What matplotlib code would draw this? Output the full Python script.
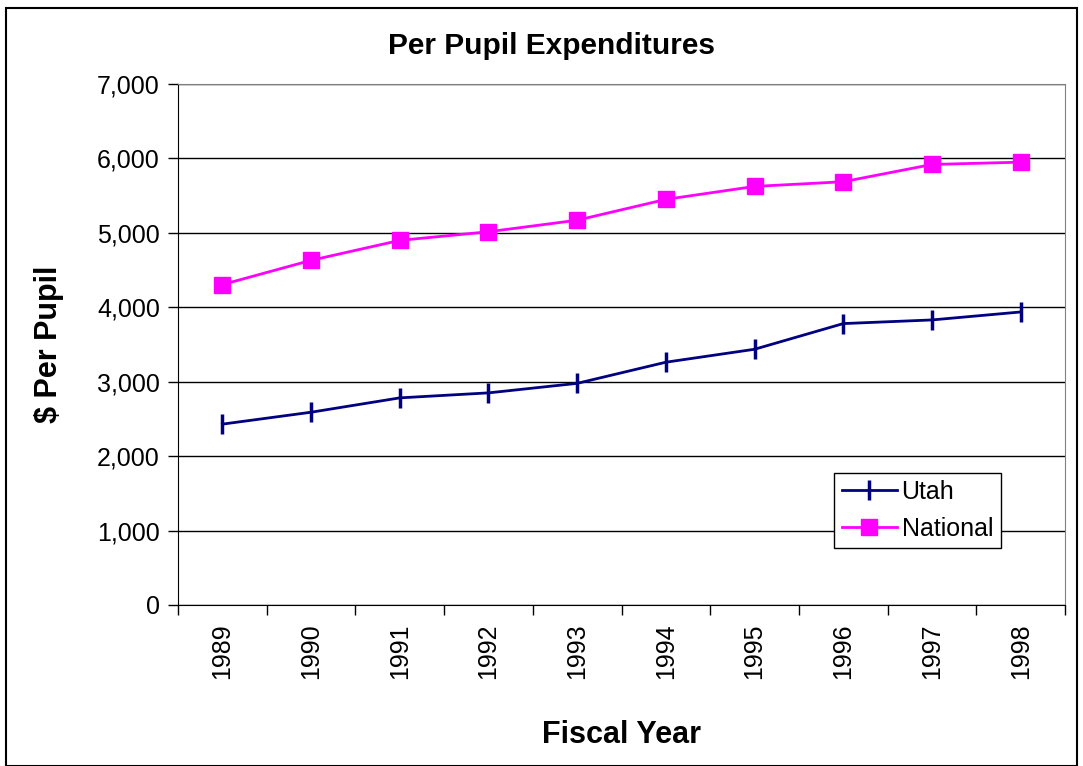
import matplotlib.pyplot as plt
from matplotlib.patches import Rectangle
from matplotlib.ticker import FuncFormatter, FixedLocator, NullFormatter

plt.rcParams['font.family'] = ['Liberation Sans', 'DejaVu Sans']

years = ['1989', '1990', '1991', '1992', '1993', '1994', '1995', '1996', '1997', '1998']
utah = [2430, 2590, 2783, 2850, 2978, 3262, 3436, 3781, 3830, 3937]
national = [4305, 4631, 4899, 5015, 5170, 5450, 5624, 5687, 5919, 5950]

fig = plt.figure(figsize=(10.83, 7.66), dpi=100)
ax = fig.add_axes([178/1083, 1-605/766, 887/1083, 521/766])

x = list(range(len(years)))
ax.plot(x, utah, color='#000080', lw=2, marker='|', ms=14, mew=2.5, label='Utah')
ax.plot(x, national, color='#FF00FF', lw=2, marker='s', ms=11, label='National')

ax.set_xlim(-0.5, len(years) - 0.5)
ax.set_ylim(0, 7000)
ax.set_yticks(range(0, 7001, 1000))
ax.yaxis.set_major_formatter(FuncFormatter(lambda v, p: f'{int(v):,}'))
ax.yaxis.grid(True, color='black', lw=1)
ax.set_axisbelow(True)

# category ticks between years, labels at centers
ax.xaxis.set_major_locator(FixedLocator([i - 0.5 for i in range(len(years) + 1)]))
ax.xaxis.set_major_formatter(NullFormatter())
ax.xaxis.set_minor_locator(FixedLocator(x))
ax.set_xticklabels(years, minor=True, rotation=90)
ax.tick_params(axis='x', which='minor', length=0, pad=13, labelsize=18)
ax.tick_params(axis='x', which='major', length=7, width=1, direction='out')
ax.tick_params(axis='y', length=7, width=1, labelsize=18, pad=6)

for s in ['top', 'right']:
    ax.spines[s].set_color('#808080')
for s in ['left', 'bottom']:
    ax.spines[s].set_color('black')

fig.text(551/1083, 1 - 46/766, 'Per Pupil Expenditures', fontsize=21.5, fontweight='bold',
         ha='center', va='center')
ax.set_ylabel('\\$ Per Pupil', fontsize=22, fontweight='bold', labelpad=24)
ax.set_xlabel('Fiscal Year', fontsize=22, fontweight='bold', labelpad=30)

leg = ax.legend(loc='lower left', bbox_to_anchor=(0.7396, 0.1094), fontsize=18,
                fancybox=False, framealpha=1, edgecolor='black', borderaxespad=0,
                handlelength=2.2, borderpad=0.3, labelspacing=0.5, handletextpad=0.2)
leg.get_frame().set_linewidth(1)

fig.patches.append(Rectangle((6/1083, 0), 1 - 12/1083, 1 - 8/766, transform=fig.transFigure,
                             fill=False, edgecolor='black', lw=1.5))

fig.savefig('out.png', dpi=100)
